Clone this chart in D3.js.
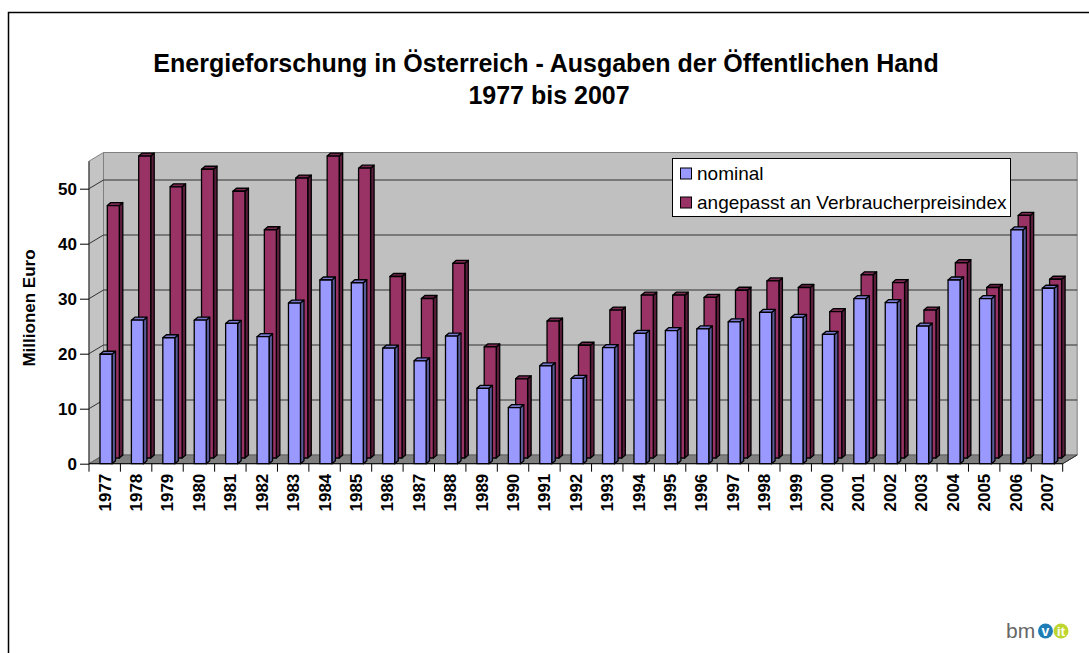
<!DOCTYPE html>
<html>
<head>
<meta charset="utf-8">
<script src="https://cdn.jsdelivr.net/npm/d3@7"></script>
<style>
  body { margin: 0; background: #fff; }
  text { font-family: "Liberation Sans", Arial, sans-serif; }
</style>
</head>
<body>
<div id="chart"></div>
<script>
var years = ["1977","1978","1979","1980","1981","1982","1983","1984","1985","1986",
             "1987","1988","1989","1990","1991","1992","1993","1994","1995","1996",
             "1997","1998","1999","2000","2001","2002","2003","2004","2005","2006","2007"]

var nominal = [19.9, 26.1, 22.9, 26.1, 25.5, 23.1, 29.2, 33.4, 32.9, 21.0,
               18.7, 23.2, 13.7, 10.2, 17.8, 15.5, 21.1, 23.7, 24.2, 24.5,
               25.8, 27.5, 26.6, 23.5, 30.0, 29.3, 25.0, 33.4, 30.0, 42.5, 31.9]

var adjusted = [45.9, 54.9, 49.3, 52.5, 48.5, 41.5, 50.9, 54.9, 52.7, 33.0,
                29.0, 35.4, 20.2, 14.4, 24.9, 20.5, 26.9, 29.6, 29.6, 29.2,
                30.5, 32.2, 31.0, 26.6, 33.3, 31.9, 26.9, 35.5, 31.0, 44.1, 32.5]

var yTicks = [0, 10, 20, 30, 40, 50]
var seriesNames = ["nominal", "angepasst an Verbraucherpreisindex"]

var W = 1089, H = 653

// 3d geometry of the plot box
var left = 89, right = 1062.7, base = 463.7
var depthX = 14.5, depthY = -8.7
var barDx = 3.5, barDy = -3

var svg = d3.select("#chart")
    .append("svg")
        .attr("width", W)
        .attr("height", H)

svg.append("rect")
    .attr("x", 8.5).attr("y", 12.5)
    .attr("width", W + 20).attr("height", H + 20)
    .attr("fill", "#fff")
    .attr("stroke", "#000")
    .attr("stroke-width", 1.5)

var x = d3.scaleBand()
    .domain(years)
    .range([left, right])

var y = d3.scaleLinear()
    .domain([0, 55])
    .range([base, base - 55 * 5.5])

var plotTop = y(55)

function poly(pts){ return "M" + pts.map(p => p.join(",")).join("L") + "Z" }

// back wall
svg.append("path")
    .attr("d", poly([[left + depthX, plotTop + depthY], [right + depthX, plotTop + depthY],
                     [right + depthX, base + depthY], [left + depthX, base + depthY]]))
    .attr("fill", "#c0c0c0")
    .attr("stroke", "#808080")

// left wall
svg.append("path")
    .attr("d", poly([[left, base], [left, plotTop], [left + depthX, plotTop + depthY], [left + depthX, base + depthY]]))
    .attr("fill", "#c4c4c4")
    .attr("stroke", "#808080")

// gridlines on back and left walls
var grid = svg.append("g")
grid.selectAll("path.grid")
    .data(yTicks.filter(d => d > 0))
    .enter()
    .append("path")
        .attr("class", "grid")
        .attr("d", d => "M" + left + "," + y(d) + "L" + (left + depthX) + "," + (y(d) + depthY) +
                        "L" + (right + depthX) + "," + (y(d) + depthY))
        .attr("fill", "none")
        .attr("stroke", "#303030")
        .attr("stroke-width", 1)

// floor
svg.append("path")
    .attr("d", poly([[left, base], [right, base], [right + depthX, base + depthY], [left + depthX, base + depthY]]))
    .attr("fill", "#808080")
    .attr("stroke", "#606060")

var series = [
    { name: seriesNames[1], values: adjusted, off: 18.3, lift: -5.7,
      front: "#993366", side: "#5a1d3c", topc: "#7a2952" },
    { name: seriesNames[0], values: nominal, off: 11, lift: 0,
      front: "#9999ff", side: "#5a5a9a", topc: "#7777cc" }
]

var bw = 12

series.forEach(function(s){
    var g = svg.append("g")
        .attr("stroke", "#000")
        .attr("stroke-width", 1.3)
        .attr("stroke-linejoin", "round")
    var bars = g.selectAll("g.bar")
        .data(s.values.map((v, i) => ({ year: years[i], val: v })))
        .enter()
        .append("g")
            .attr("class", "bar")

    bars.append("path")
        .attr("d", function(d){
            var x0 = x(d.year) + s.off, yt = y(d.val) + s.lift, yb = y(0) + s.lift
            return poly([[x0 + bw, yt], [x0 + bw + barDx, yt + barDy], [x0 + bw + barDx, yb + barDy], [x0 + bw, yb]])
        })
        .attr("fill", s.side)

    bars.append("path")
        .attr("d", function(d){
            var x0 = x(d.year) + s.off, yt = y(d.val) + s.lift
            return poly([[x0, yt], [x0 + barDx, yt + barDy], [x0 + bw + barDx, yt + barDy], [x0 + bw, yt]])
        })
        .attr("fill", s.topc)

    bars.append("rect")
        .attr("x", d => x(d.year) + s.off)
        .attr("y", d => y(d.val) + s.lift)
        .attr("width", bw)
        .attr("height", d => y(0) - y(d.val))
        .attr("fill", s.front)
})

// axes
svg.append("line")
    .attr("x1", left).attr("x2", left)
    .attr("y1", base).attr("y2", plotTop)
    .attr("stroke", "#303030")

svg.append("line")
    .attr("x1", left).attr("x2", right)
    .attr("y1", base).attr("y2", base)
    .attr("stroke", "#000")

svg.append("line")
    .attr("x1", right).attr("x2", right + depthX)
    .attr("y1", base).attr("y2", base + depthY)
    .attr("stroke", "#303030")

var xAxis = d3.axisBottom(x).tickSize(8).tickFormat("")
var xg = svg.append("g")
    .attr("transform", "translate(0," + base + ")")
    .call(xAxis)
xg.select(".domain").remove()
xg.selectAll(".tick line")
    .attr("transform", "translate(" + (-x.bandwidth() / 2) + ",0)")
xg.append("line")
    .attr("x1", right).attr("x2", right)
    .attr("y1", 0).attr("y2", 8)
    .attr("stroke", "#000")

svg.selectAll("text.xlab")
    .data(years)
    .enter()
    .append("text")
        .attr("class", "xlab")
        .attr("transform", d => "translate(" + (x(d) + x.bandwidth() / 2) + "," + (base + 10) + ") rotate(-90)")
        .attr("text-anchor", "end")
        .attr("dy", "0.35em")
        .attr("font-size", "17px")
        .attr("font-weight", "bold")
        .text(d => d)

var yAxis = d3.axisLeft(y).tickValues(yTicks).tickSize(9).tickPadding(3)
var yg = svg.append("g")
    .attr("transform", "translate(" + left + ",0)")
    .call(yAxis)
yg.select(".domain").remove()
yg.selectAll("text")
    .attr("font-size", "17px")
    .attr("font-weight", "bold")
    .attr("font-family", "Liberation Sans, Arial, sans-serif")
    .attr("fill", "#000")

svg.append("text")
    .attr("transform", "translate(35,308) rotate(-90)")
    .attr("text-anchor", "middle")
    .attr("font-size", "17px")
    .attr("font-weight", "bold")
    .text("Millionen Euro")

// title
svg.append("text")
    .attr("x", 546).attr("y", 72)
    .attr("text-anchor", "middle")
    .attr("font-size", "25px")
    .attr("font-weight", "bold")
    .text("Energieforschung in Österreich - Ausgaben der Öffentlichen Hand")

svg.append("text")
    .attr("x", 549).attr("y", 104)
    .attr("text-anchor", "middle")
    .attr("font-size", "25px")
    .attr("font-weight", "bold")
    .text("1977 bis 2007")

// legend
var legend = svg.append("g")
legend.append("rect")
    .attr("x", 672.5).attr("y", 158.5)
    .attr("width", 338).attr("height", 58)
    .attr("fill", "#fff")
    .attr("stroke", "#000")

var legendItems = [
    { name: seriesNames[0], color: "#9999ff", cy: 173.5 },
    { name: seriesNames[1], color: "#993366", cy: 202.5 }
]
legendItems.forEach(function(d){
    legend.append("rect")
        .attr("x", 680.5).attr("y", d.cy - 5.5)
        .attr("width", 11).attr("height", 11)
        .attr("fill", d.color)
        .attr("stroke", "#000")
    legend.append("text")
        .attr("x", 697).attr("y", d.cy)
        .attr("dy", "0.35em")
        .attr("font-size", "19px")
        .text(d.name)
})

// logo
var logo = svg.append("g")
logo.append("text")
    .attr("x", 1006).attr("y", 638)
    .attr("font-size", "21px")
    .attr("fill", "#666")
    .text("bm")
logo.append("circle")
    .attr("cx", 1045.5).attr("cy", 631).attr("r", 7.5)
    .attr("fill", "#1f7db5")
logo.append("text")
    .attr("x", 1045.5).attr("y", 636)
    .attr("text-anchor", "middle")
    .attr("font-size", "14px")
    .attr("font-weight", "bold")
    .attr("fill", "#fff")
    .text("v")
logo.append("circle")
    .attr("cx", 1061).attr("cy", 631).attr("r", 7.5)
    .attr("fill", "#bfd630")
logo.append("text")
    .attr("x", 1061).attr("y", 636)
    .attr("text-anchor", "middle")
    .attr("font-size", "13px")
    .attr("font-weight", "bold")
    .attr("fill", "#fff")
    .text("it")
</script>
</body>
</html>
